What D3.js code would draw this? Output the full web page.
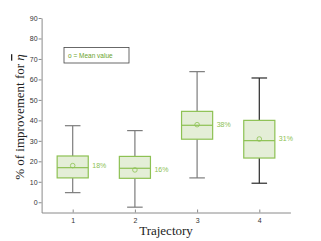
<!DOCTYPE html>
<html>
<head>
<meta charset="utf-8">
<script src="https://cdn.jsdelivr.net/npm/d3@7"></script>
<style>
  body { margin: 0; background: #fff; }
  svg { display: block; }
</style>
</head>
<body>
<div id="chart"></div>
<script>
// values
var trajectories = [1, 2, 3, 4];
var whiskerLow  = [4.7, -2.4, 11.9, 9.3];
var q1          = [11.9, 11.7, 30.8, 21.6];
var medians     = [16.9, 16.6, 37.6, 30.1];
var q3          = [22.6, 22.4, 44.4, 40.0];
var whiskerHigh = [37.4, 35.0, 63.8, 60.7];
var means       = [17.9, 15.8, 37.9, 30.9];
var meanLabels  = ["18%", "16%", "38%", "31%"];
var yTicks = [0, 10, 20, 30, 40, 50, 60, 70, 80, 90];

var width = 321, height = 241;
var green = "#8dc153", fill = "#e4eed7";

var svg = d3.select("#chart").append("svg")
    .attr("width", width)
    .attr("height", height);

var x = d3.scaleLinear().domain([0.5, 4.5]).range([41.6, 290.4]);
var y = d3.scaleLinear().domain([-5, 90]).range([212.5, 18]);

// axes
var yAxis = svg.append("g")
    .attr("transform", "translate(" + x(0.5) + ",0)")
    .call(d3.axisLeft(y).tickValues(yTicks).tickSize(3).tickSizeOuter(0));
var xAxis = svg.append("g")
    .attr("transform", "translate(0," + y(-5) + ")")
    .call(d3.axisBottom(x).tickValues(trajectories).tickFormat(d3.format("d")).tickSize(-3).tickSizeOuter(0));

[yAxis, xAxis].forEach(function (a) {
    a.select(".domain").attr("stroke", "#8a8a8a");
    a.selectAll(".tick line").attr("stroke", "#8a8a8a");
    a.selectAll(".tick text")
        .attr("fill", "#333")
        .style("font-family", "Liberation Sans, Arial, sans-serif")
        .style("font-size", "7px");
});
yAxis.selectAll(".tick text").attr("x", -4);
xAxis.selectAll(".tick text").attr("y", 6);

var boxW = (x(2) - x(1)) * 0.5;
var capW = boxW * 0.5;
var data = trajectories.map(function (t, i) {
    return { t: t, lo: whiskerLow[i], q1: q1[i], med: medians[i], q3: q3[i], hi: whiskerHigh[i], mean: means[i], label: meanLabels[i] };
});

var g = svg.append("g").selectAll("g")
    .data(data)
    .enter()
    .append("g");

var whiskerColor = function (d) { return d.t === 4 ? "#2a2a2a" : "#7d7d7d"; };

// whiskers
g.append("line")
    .attr("x1", function (d) { return x(d.t); })
    .attr("x2", function (d) { return x(d.t); })
    .attr("y1", function (d) { return y(d.hi); })
    .attr("y2", function (d) { return y(d.q3); })
    .attr("stroke", whiskerColor).attr("stroke-width", 1.2);
g.append("line")
    .attr("x1", function (d) { return x(d.t); })
    .attr("x2", function (d) { return x(d.t); })
    .attr("y1", function (d) { return y(d.q1); })
    .attr("y2", function (d) { return y(d.lo); })
    .attr("stroke", whiskerColor).attr("stroke-width", 1.2);
["hi", "lo"].forEach(function (k) {
    g.append("line")
        .attr("x1", function (d) { return x(d.t) - capW / 2; })
        .attr("x2", function (d) { return x(d.t) + capW / 2; })
        .attr("y1", function (d) { return y(d[k]); })
        .attr("y2", function (d) { return y(d[k]); })
        .attr("stroke", whiskerColor).attr("stroke-width", 1.2);
});

// boxes
g.append("rect")
    .attr("x", function (d) { return x(d.t) - boxW / 2; })
    .attr("y", function (d) { return y(d.q3); })
    .attr("width", boxW)
    .attr("height", function (d) { return y(d.q1) - y(d.q3); })
    .attr("fill", fill)
    .attr("stroke", green)
    .attr("stroke-width", 1.2);

g.append("line")
    .attr("x1", function (d) { return x(d.t) - boxW / 2; })
    .attr("x2", function (d) { return x(d.t) + boxW / 2; })
    .attr("y1", function (d) { return y(d.med); })
    .attr("y2", function (d) { return y(d.med); })
    .attr("stroke", green).attr("stroke-width", 1.2);

g.append("circle")
    .attr("cx", function (d) { return x(d.t); })
    .attr("cy", function (d) { return y(d.mean); })
    .attr("r", 2.3)
    .attr("fill", "none")
    .attr("stroke", green)
    .attr("stroke-width", 0.8);

g.append("text")
    .attr("x", function (d) { return x(d.t) + boxW / 2 + 4; })
    .attr("y", function (d) { return y(d.mean) + 2.5; })
    .attr("fill", green)
    .style("font-family", "Liberation Sans, Arial, sans-serif")
    .style("font-size", "7px")
    .text(function (d) { return d.label; });

// legend
svg.append("rect")
    .attr("x", 64).attr("y", 47.5)
    .attr("width", 65).attr("height", 15.5)
    .attr("fill", "#fff")
    .attr("stroke", "#444")
    .attr("stroke-width", 0.8);
svg.append("text")
    .attr("x", 68).attr("y", 58)
    .attr("fill", "#6aa32c")
    .style("font-family", "Liberation Sans, Arial, sans-serif")
    .style("font-size", "6.5px")
    .text("o = Mean value");

// axis titles
svg.append("text")
    .attr("x", 166).attr("y", 235)
    .attr("text-anchor", "middle")
    .attr("fill", "#222")
    .style("font-family", "Liberation Serif, Times New Roman, serif")
    .style("font-size", "13px")
    .text("Trajectory");

var yl = svg.append("text")
    .attr("transform", "translate(24,117) rotate(-90)")
    .attr("text-anchor", "middle")
    .attr("fill", "#222")
    .style("font-family", "Liberation Serif, Times New Roman, serif")
    .style("font-size", "13px");
yl.append("tspan").text("% of improvement for ");
yl.append("tspan").style("text-decoration", "overline").style("font-style", "italic").text("η");
</script>
</body>
</html>
